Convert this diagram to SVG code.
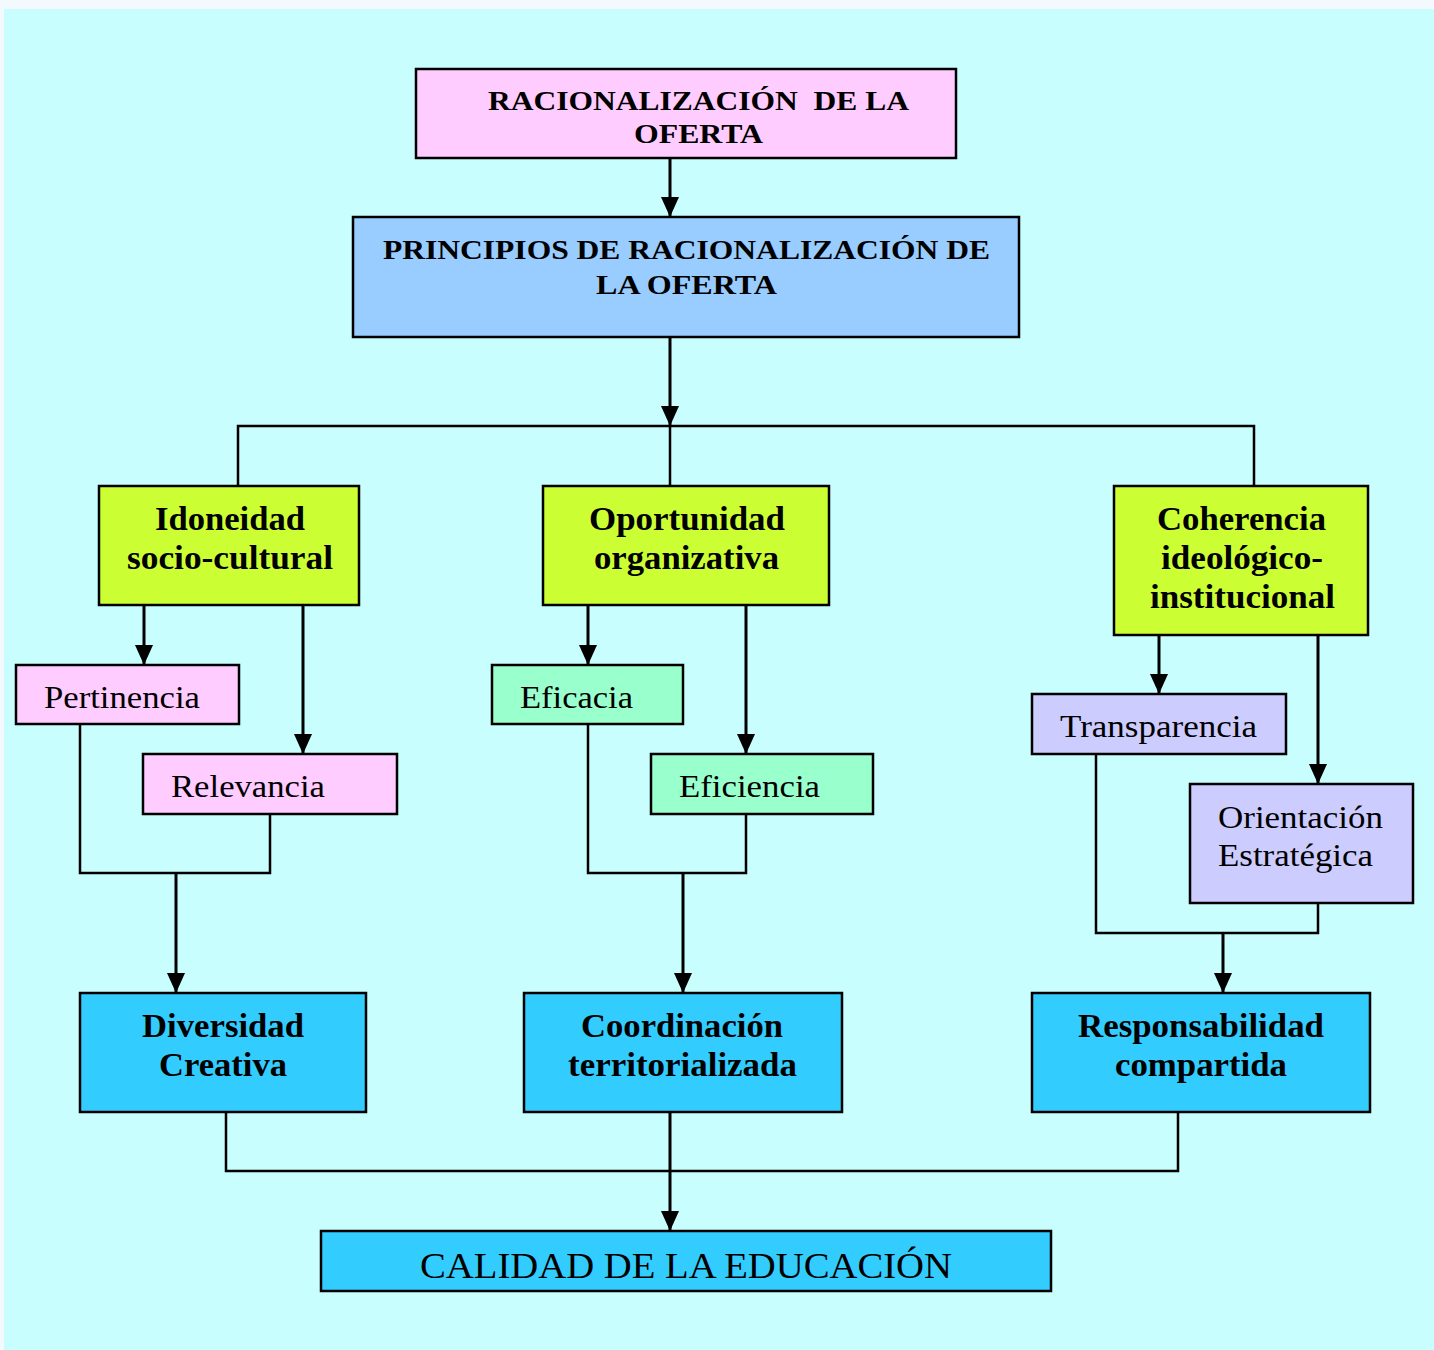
<svg xmlns="http://www.w3.org/2000/svg" width="1434" height="1350" viewBox="0 0 1434 1350">
<defs>
<marker id="ah" viewBox="0 0 20 18" refX="20" refY="9" markerWidth="20" markerHeight="18" markerUnits="userSpaceOnUse" orient="auto">
<path d="M0,0 L20,9 L0,18 Z" fill="#000"/>
</marker>
<style>
.box{stroke:#000;stroke-width:2.5}
.pink{fill:#ffccff}.blue{fill:#99ccff}.lime{fill:#ccff33}.green{fill:#99ffcc}.lav{fill:#ccccff}.cyan{fill:#33ccff}
.hd{font-family:"Liberation Serif","Times New Roman",serif;font-weight:bold;fill:#000}
.t1{font-size:28px}.t2{font-size:33px}
.rg{font-family:"Liberation Serif","Times New Roman",serif;font-size:32px;fill:#000}
.ln{fill:none;stroke:#000;stroke-width:2.5}
.ar{fill:none;stroke:#000;stroke-width:3;marker-end:url(#ah)}
</style>
</defs>
<rect x="0" y="0" width="1434" height="1350" fill="#f3f9fc"/>
<rect x="4" y="9" width="1430" height="1341" fill="#c8fefe"/>

<g id="connectors">
<path class="ar" d="M670,158 V217"/>
<path class="ar" d="M670,337 V426"/>
<path class="ln" d="M238,486 V426 H1254 V486 M670,426 V486"/>
<path class="ar" d="M144,605 V665"/>
<path class="ar" d="M303,605 V754"/>
<path class="ln" d="M80,724 V873 H270 V814"/>
<path class="ar" d="M176,873 V993"/>
<path class="ar" d="M588,605 V665"/>
<path class="ar" d="M746,605 V754"/>
<path class="ln" d="M588,724 V873 H746 V814"/>
<path class="ar" d="M683,873 V993"/>
<path class="ar" d="M1159,635 V694"/>
<path class="ar" d="M1318,635 V784"/>
<path class="ln" d="M1096,754 V933 H1318 V903"/>
<path class="ar" d="M1223,933 V993"/>
<path class="ln" d="M226,1112 V1171 H1178 V1112"/>
<path class="ar" d="M670,1112 V1231"/>
</g>

<g id="racionalizacion">
<rect class="box pink" x="416" y="69" width="540" height="89"/>
<text class="hd t1" x="488" y="110" textLength="421" lengthAdjust="spacingAndGlyphs" xml:space="preserve">RACIONALIZACIÓN  DE LA</text>
<text class="hd t1" x="634" y="143" textLength="129" lengthAdjust="spacingAndGlyphs">OFERTA</text>
</g>
<g id="principios">
<rect class="box blue" x="353" y="217" width="666" height="120"/>
<text class="hd t1" x="383" y="259" textLength="607" lengthAdjust="spacingAndGlyphs">PRINCIPIOS DE RACIONALIZACIÓN DE</text>
<text class="hd t1" x="596" y="294" textLength="181" lengthAdjust="spacingAndGlyphs">LA OFERTA</text>
</g>
<g id="idoneidad">
<rect class="box lime" x="99" y="486" width="260" height="119"/>
<text class="hd t2" x="155" y="530" textLength="150" lengthAdjust="spacingAndGlyphs">Idoneidad</text>
<text class="hd t2" x="127" y="569" textLength="206" lengthAdjust="spacingAndGlyphs">socio-cultural</text>
</g>
<g id="oportunidad">
<rect class="box lime" x="543" y="486" width="286" height="119"/>
<text class="hd t2" x="589" y="530" textLength="196" lengthAdjust="spacingAndGlyphs">Oportunidad</text>
<text class="hd t2" x="594" y="569" textLength="185" lengthAdjust="spacingAndGlyphs">organizativa</text>
</g>
<g id="coherencia">
<rect class="box lime" x="1114" y="486" width="254" height="149"/>
<text class="hd t2" x="1157" y="530" textLength="169" lengthAdjust="spacingAndGlyphs">Coherencia</text>
<text class="hd t2" x="1161" y="569" textLength="162" lengthAdjust="spacingAndGlyphs">ideológico-</text>
<text class="hd t2" x="1150" y="608" textLength="185" lengthAdjust="spacingAndGlyphs">institucional</text>
</g>
<g id="pertinencia">
<rect class="box pink" x="16" y="665" width="223" height="59"/>
<text class="rg" x="44" y="708" textLength="156" lengthAdjust="spacingAndGlyphs">Pertinencia</text>
</g>
<g id="relevancia">
<rect class="box pink" x="143" y="754" width="254" height="60"/>
<text class="rg" x="171" y="797" textLength="154" lengthAdjust="spacingAndGlyphs">Relevancia</text>
</g>
<g id="eficacia">
<rect class="box green" x="492" y="665" width="191" height="59"/>
<text class="rg" x="520" y="708" textLength="113" lengthAdjust="spacingAndGlyphs">Eficacia</text>
</g>
<g id="eficiencia">
<rect class="box green" x="651" y="754" width="222" height="60"/>
<text class="rg" x="679" y="797" textLength="141" lengthAdjust="spacingAndGlyphs">Eficiencia</text>
</g>
<g id="transparencia">
<rect class="box lav" x="1032" y="694" width="254" height="60"/>
<text class="rg" x="1060" y="737" textLength="197" lengthAdjust="spacingAndGlyphs">Transparencia</text>
</g>
<g id="orientacion">
<rect class="box lav" x="1190" y="784" width="223" height="119"/>
<text class="rg" x="1218" y="828" textLength="165" lengthAdjust="spacingAndGlyphs">Orientación</text>
<text class="rg" x="1218" y="866" textLength="155" lengthAdjust="spacingAndGlyphs">Estratégica</text>
</g>
<g id="diversidad">
<rect class="box cyan" x="80" y="993" width="286" height="119"/>
<text class="hd t2" x="142" y="1037" textLength="162" lengthAdjust="spacingAndGlyphs">Diversidad</text>
<text class="hd t2" x="159" y="1076" textLength="128" lengthAdjust="spacingAndGlyphs">Creativa</text>
</g>
<g id="coordinacion">
<rect class="box cyan" x="524" y="993" width="318" height="119"/>
<text class="hd t2" x="581" y="1037" textLength="202" lengthAdjust="spacingAndGlyphs">Coordinación</text>
<text class="hd t2" x="568" y="1076" textLength="229" lengthAdjust="spacingAndGlyphs">territorializada</text>
</g>
<g id="responsabilidad">
<rect class="box cyan" x="1032" y="993" width="338" height="119"/>
<text class="hd t2" x="1078" y="1037" textLength="246" lengthAdjust="spacingAndGlyphs">Responsabilidad</text>
<text class="hd t2" x="1115" y="1076" textLength="172" lengthAdjust="spacingAndGlyphs">compartida</text>
</g>
<g id="calidad">
<rect class="box cyan" x="321" y="1231" width="730" height="60"/>
<text class="rg" x="420" y="1278" textLength="532" lengthAdjust="spacingAndGlyphs" style="font-size:36px">CALIDAD DE LA EDUCACIÓN</text>
</g>
</svg>
